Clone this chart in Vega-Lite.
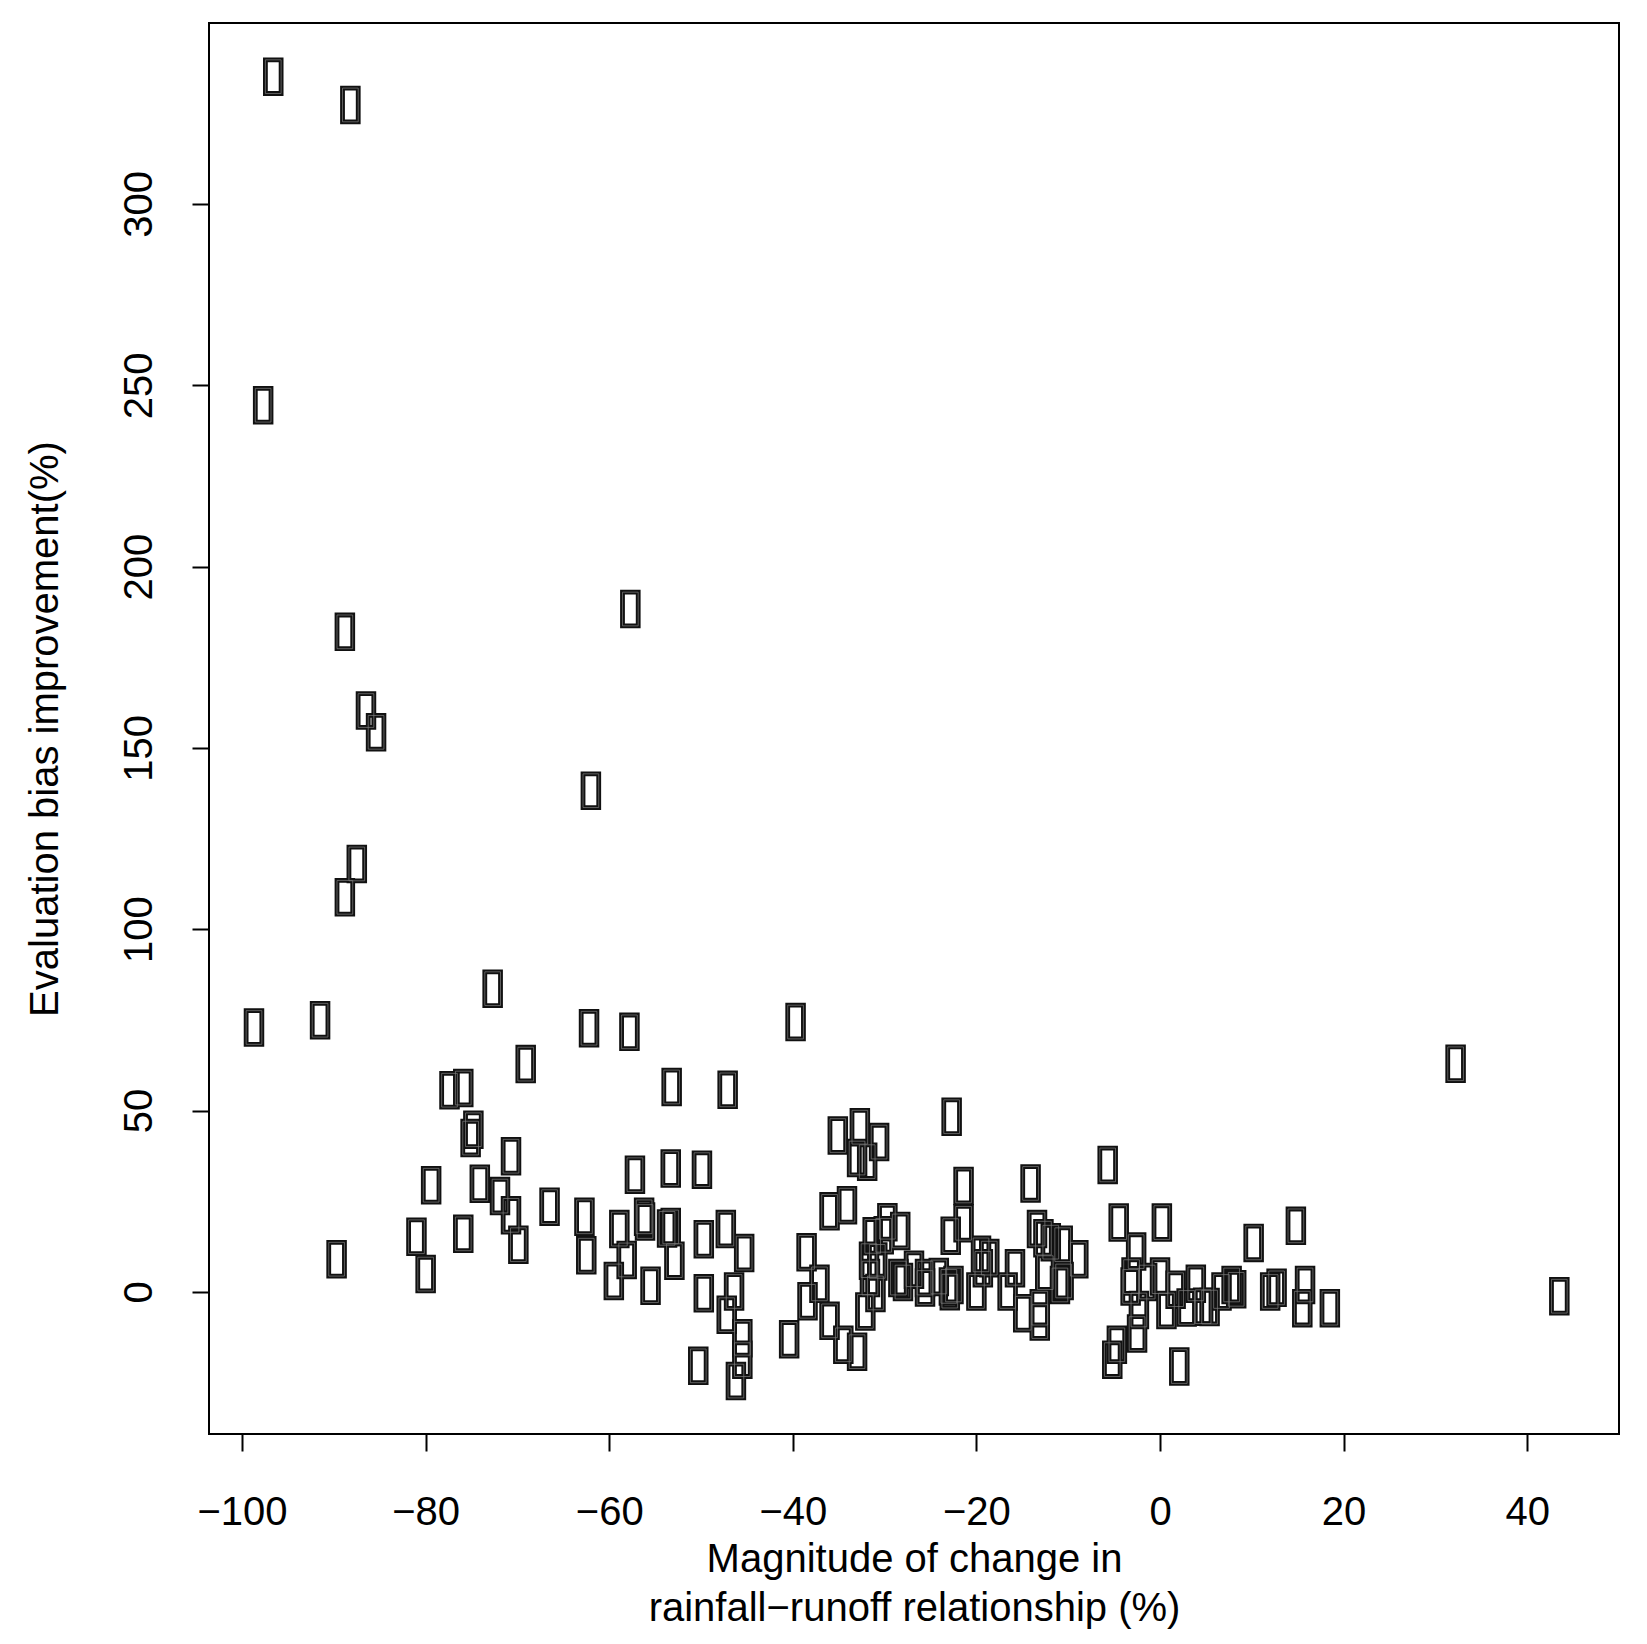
{
  "$schema": "https://vega.github.io/schema/vega-lite/v6.json",
  "width": 1410,
  "height": 1411,
  "autosize": {"type": "none"},
  "padding": {"left": 209, "top": 23, "right": 28, "bottom": 210},
  "background": "white",
  "config": {
    "view": {"stroke": "black", "strokeWidth": 2},
    "axis": {"grid": false, "domain": false, "tickColor": "black", "tickWidth": 2, "tickSize": 17,
      "labelFont": "Liberation Sans", "labelFontSize": 40, "labelColor": "black",
      "titleFont": "Liberation Sans", "titleFontSize": 40, "titleFontWeight": "normal", "titleColor": "black",
      "labelFlush": false, "labelOverlap": false}
  },
  "data": {"values": [
    {"change": -96.6, "bias": 335.1}, {"change": -88.2, "bias": 327.3}, {"change": -97.7, "bias": 244.5},
    {"change": -57.7, "bias": 188.3}, {"change": -88.8, "bias": 182.0}, {"change": -86.5, "bias": 160.3},
    {"change": -85.4, "bias": 154.3}, {"change": -62.0, "bias": 138.2}, {"change": -87.5, "bias": 118.0},
    {"change": -88.8, "bias": 108.8}, {"change": -98.7, "bias": 72.9}, {"change": -91.5, "bias": 74.9},
    {"change": -72.7, "bias": 83.6}, {"change": -62.2, "bias": 72.7}, {"change": -57.8, "bias": 71.7},
    {"change": -69.1, "bias": 62.8}, {"change": -77.4, "bias": 55.6}, {"change": -75.9, "bias": 56.2},
    {"change": -74.8, "bias": 44.7}, {"change": -75.1, "bias": 42.4}, {"change": -70.7, "bias": 37.4},
    {"change": -79.4, "bias": 29.4}, {"change": -74.1, "bias": 29.8}, {"change": -71.9, "bias": 26.4},
    {"change": -70.7, "bias": 21.1}, {"change": -69.9, "bias": 13.0}, {"change": -66.5, "bias": 23.5},
    {"change": -62.7, "bias": 20.7}, {"change": -62.5, "bias": 10.1}, {"change": -58.9, "bias": 17.3},
    {"change": -58.1, "bias": 8.8}, {"change": -59.5, "bias": 3.0}, {"change": -57.2, "bias": 32.3},
    {"change": -81.0, "bias": 15.2}, {"change": -80.0, "bias": 4.9}, {"change": -75.9, "bias": 16.0},
    {"change": -89.7, "bias": 9.0}, {"change": -53.3, "bias": 34.0}, {"change": -49.9, "bias": 33.7},
    {"change": -53.2, "bias": 56.5}, {"change": -56.2, "bias": 20.7}, {"change": -56.1, "bias": 19.4},
    {"change": -55.5, "bias": 1.7}, {"change": -53.7, "bias": 17.5}, {"change": -53.3, "bias": 17.9},
    {"change": -52.9, "bias": 8.6}, {"change": -49.7, "bias": 14.5}, {"change": -49.7, "bias": -0.4},
    {"change": -50.3, "bias": -20.4}, {"change": -47.1, "bias": 55.7}, {"change": -47.3, "bias": 17.3},
    {"change": -45.3, "bias": 10.7}, {"change": -46.4, "bias": 0.1}, {"change": -47.2, "bias": -6.3},
    {"change": -45.5, "bias": -12.8}, {"change": -45.5, "bias": -18.7}, {"change": -46.2, "bias": -24.6},
    {"change": -40.4, "bias": -13.1}, {"change": -38.5, "bias": 10.9}, {"change": -37.1, "bias": 2.2},
    {"change": -38.4, "bias": -2.6}, {"change": -36.0, "bias": -8.0}, {"change": -34.5, "bias": -14.6},
    {"change": -33.0, "bias": -16.5}, {"change": -36.0, "bias": 22.2}, {"change": -34.1, "bias": 23.9},
    {"change": -35.1, "bias": 43.1}, {"change": -32.7, "bias": 45.4}, {"change": -30.6, "bias": 41.3},
    {"change": -33.0, "bias": 36.9}, {"change": -31.9, "bias": 35.9}, {"change": -32.1, "bias": -5.4},
    {"change": -22.7, "bias": 48.3}, {"change": -21.4, "bias": 29.2}, {"change": -14.1, "bias": 29.9},
    {"change": -21.4, "bias": 18.9}, {"change": -22.8, "bias": 15.5}, {"change": -29.7, "bias": 19.2},
    {"change": -28.3, "bias": 16.8}, {"change": -31.3, "bias": 15.3}, {"change": -30.1, "bias": 15.6},
    {"change": -31.7, "bias": 8.6}, {"change": -30.8, "bias": 8.4}, {"change": -31.6, "bias": 3.8},
    {"change": -31.0, "bias": -0.3}, {"change": -28.5, "bias": 3.8}, {"change": -28.0, "bias": 2.7},
    {"change": -26.8, "bias": 6.1}, {"change": -25.6, "bias": 3.8}, {"change": -25.6, "bias": 1.2},
    {"change": -24.1, "bias": 4.1}, {"change": -23.0, "bias": 1.5}, {"change": -22.5, "bias": 1.9},
    {"change": -22.9, "bias": 0.2}, {"change": -20.0, "bias": 0.1}, {"change": -19.5, "bias": 10.2},
    {"change": -18.6, "bias": 9.3}, {"change": -19.3, "bias": 6.5}, {"change": -16.6, "bias": 0.1},
    {"change": -15.8, "bias": 6.5}, {"change": -14.9, "bias": -5.9}, {"change": -5.7, "bias": 35.0},
    {"change": -4.5, "bias": 19.1}, {"change": 0.2, "bias": 19.1}, {"change": -2.6, "bias": 11.1},
    {"change": 10.2, "bias": 13.5}, {"change": 14.8, "bias": 18.2}, {"change": 2.1, "bias": -20.6},
    {"change": -5.2, "bias": -18.7}, {"change": -4.7, "bias": -14.6}, {"change": -2.5, "bias": -11.5},
    {"change": -2.3, "bias": -5.0}, {"change": -3.2, "bias": 1.5}, {"change": -3.1, "bias": 4.2},
    {"change": -1.4, "bias": 2.7}, {"change": 0.0, "bias": 4.2}, {"change": 0.7, "bias": -5.0},
    {"change": 1.7, "bias": 0.6}, {"change": 2.9, "bias": -4.3}, {"change": 3.9, "bias": 2.2},
    {"change": 4.7, "bias": -4.1}, {"change": 5.4, "bias": -4.2}, {"change": 6.7, "bias": 0.1},
    {"change": 7.8, "bias": 1.9}, {"change": 8.3, "bias": 0.7}, {"change": 12.0, "bias": 0.1},
    {"change": 12.7, "bias": 1.1}, {"change": 15.8, "bias": 1.9}, {"change": 15.5, "bias": -4.5},
    {"change": 18.5, "bias": -4.5}, {"change": -13.4, "bias": 17.3}, {"change": -12.7, "bias": 14.8},
    {"change": -11.9, "bias": 13.7}, {"change": -10.6, "bias": 13.0}, {"change": -8.9, "bias": 9.0},
    {"change": -12.5, "bias": 5.3}, {"change": -10.9, "bias": 1.9}, {"change": -10.5, "bias": 3.0},
    {"change": -13.1, "bias": -4.5}, {"change": -13.1, "bias": -8.2}, {"change": 32.2, "bias": 62.9},
    {"change": 43.5, "bias": -1.2}, {"change": -39.7, "bias": 74.4}
  ]},
  "encoding": {
    "x": {"field": "change", "type": "quantitative",
      "scale": {"domain": [-103.6, 50.0], "nice": false, "zero": false},
      "axis": {"values": [-100, -80, -60, -40, -20, 0, 20, 40],
        "labelBaseline": "alphabetic", "labelPadding": 73.5,
        "title": ["Magnitude of change in", "rainfall−runoff relationship (%)"],
        "titleBaseline": "alphabetic", "titleY": 137, "titleLineHeight": 49}},
    "y": {"field": "bias", "type": "quantitative",
      "scale": {"domain": [-39.2, 349.9], "nice": false, "zero": false},
      "axis": {"values": [0, 50, 100, 150, 200, 250, 300],
        "labelAngle": -90, "labelAlign": "center", "labelBaseline": "alphabetic", "labelPadding": 40.5,
        "title": "Evaluation bias improvement(%)",
        "titleAngle": -90, "titleBaseline": "alphabetic", "titleX": -152}}
  },
  "layer": [
    {"mark": {"type": "point", "shape": "M-0.466,-1L0.466,-1L0.466,1L-0.466,1Z", "size": 1136,
      "filled": false, "stroke": "#111111", "strokeWidth": 4.8, "opacity": 1}},
    {"mark": {"type": "point", "shape": "M-0.466,-1L0.466,-1L0.466,1L-0.466,1Z", "size": 1136,
      "filled": false, "stroke": "#808080", "strokeWidth": 0.7, "opacity": 1}}
  ]
}
